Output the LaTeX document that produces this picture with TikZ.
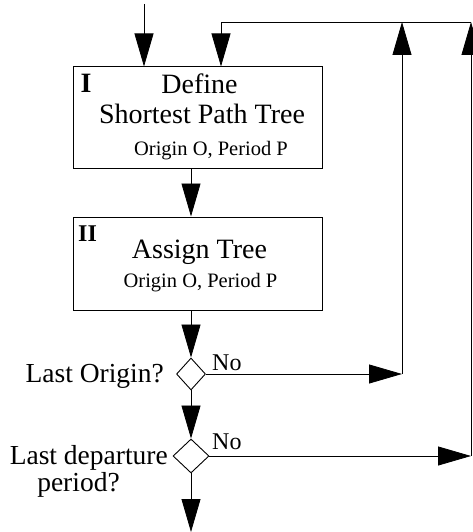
\documentclass[tikz,border=0pt]{standalone}
\usepackage{fontspec}
\setmainfont{Liberation Serif}
\usetikzlibrary{arrows.meta,shapes.geometric}
\begin{document}
\begin{tikzpicture}[x=1pt,y=-1pt,
  box/.style={draw,line width=1pt,inner sep=0pt,minimum width=249pt,minimum height=101pt},
  dec/.style={draw,diamond,line width=0.9pt,inner sep=0pt},
  arr/.style={line width=0.8pt,-{Triangle[length=33pt,width=19pt]}},
  ln/.style={line width=0.8pt},
  big/.style={font=\fontsize{28}{30}\selectfont,inner sep=0pt,anchor=base},
  small/.style={font=\fontsize{20.5}{22}\selectfont,inner sep=0pt,anchor=base},
  lab/.style={font=\fontsize{27.5}{29}\selectfont,inner sep=0pt},
  no/.style={font=\fontsize{24}{26}\selectfont,inner sep=0pt,anchor=base west}]
\useasboundingbox (0,0) rectangle (473,532);
% boxes
\node[box] (b1) at (197.5,117.5) {};
\node[box,minimum height=93pt] (b2) at (197.5,263.5) {};
% decisions
\node[dec,minimum width=29pt,minimum height=32pt] (d1) at (191,374) {};
\node[dec,minimum width=36pt,minimum height=34pt] (d2) at (191,456) {};
% texts box I
\node[big] (t1a) at (199.5,94) {Define};
\node[big] (t1b) at (202,124) {Shortest Path Tree};
\node[small] (t1c) at (211,155) {Origin O, Period P};
\node[font=\fontsize{28}{30}\selectfont\bfseries,inner sep=0pt,anchor=base west] (n1) at (80.5,93) {I};
% texts box II
\node[big] (t2a) at (199.5,258) {Assign Tree};
\node[small] (t2b) at (200.5,287) {Origin O, Period P};
\node[font=\fontsize{24}{26}\selectfont\bfseries,inner sep=0pt,anchor=base west] (n2) at (78,241) {II};
% decision labels
\node[lab,anchor=base east] (q1) at (164,382) {Last Origin?};
\node[lab,anchor=base east] (q2a) at (168,464) {Last departure};
\node[lab,anchor=base] (q2b) at (78.5,491) {period?};
\node[no] (no1) at (212,370) {No};
\node[no] (no2) at (212,449) {No};
% coordinates
\coordinate (in) at (144,4);
\coordinate (out) at (191,532);
\coordinate (r1) at (402,374);
\coordinate (r2) at (471,456);
\coordinate (u1) at (402,22);
\coordinate (u2) at (471,22);
\coordinate (tl) at (221,22);
% connectors
\draw[arr] (in) -- (b1.north -| in);
\draw[arr] (b1.south -| d1) -- (b2.north -| d1);
\draw[arr] (b2.south -| d1) -- (d1.north);
\draw[arr] (d1.south) -- (d2.north);
\draw[arr] (d2.south) -- (out);
\draw[arr] (d1.east) -- (r1);
\draw[arr] (r1) -- (u1);
\draw[arr] (d2.east) -- (r2);
\draw[arr] (r2) -- (u2);
\draw[arr] (u2) -- (tl) -- (b1.north -| tl);
\end{tikzpicture}
\end{document}
